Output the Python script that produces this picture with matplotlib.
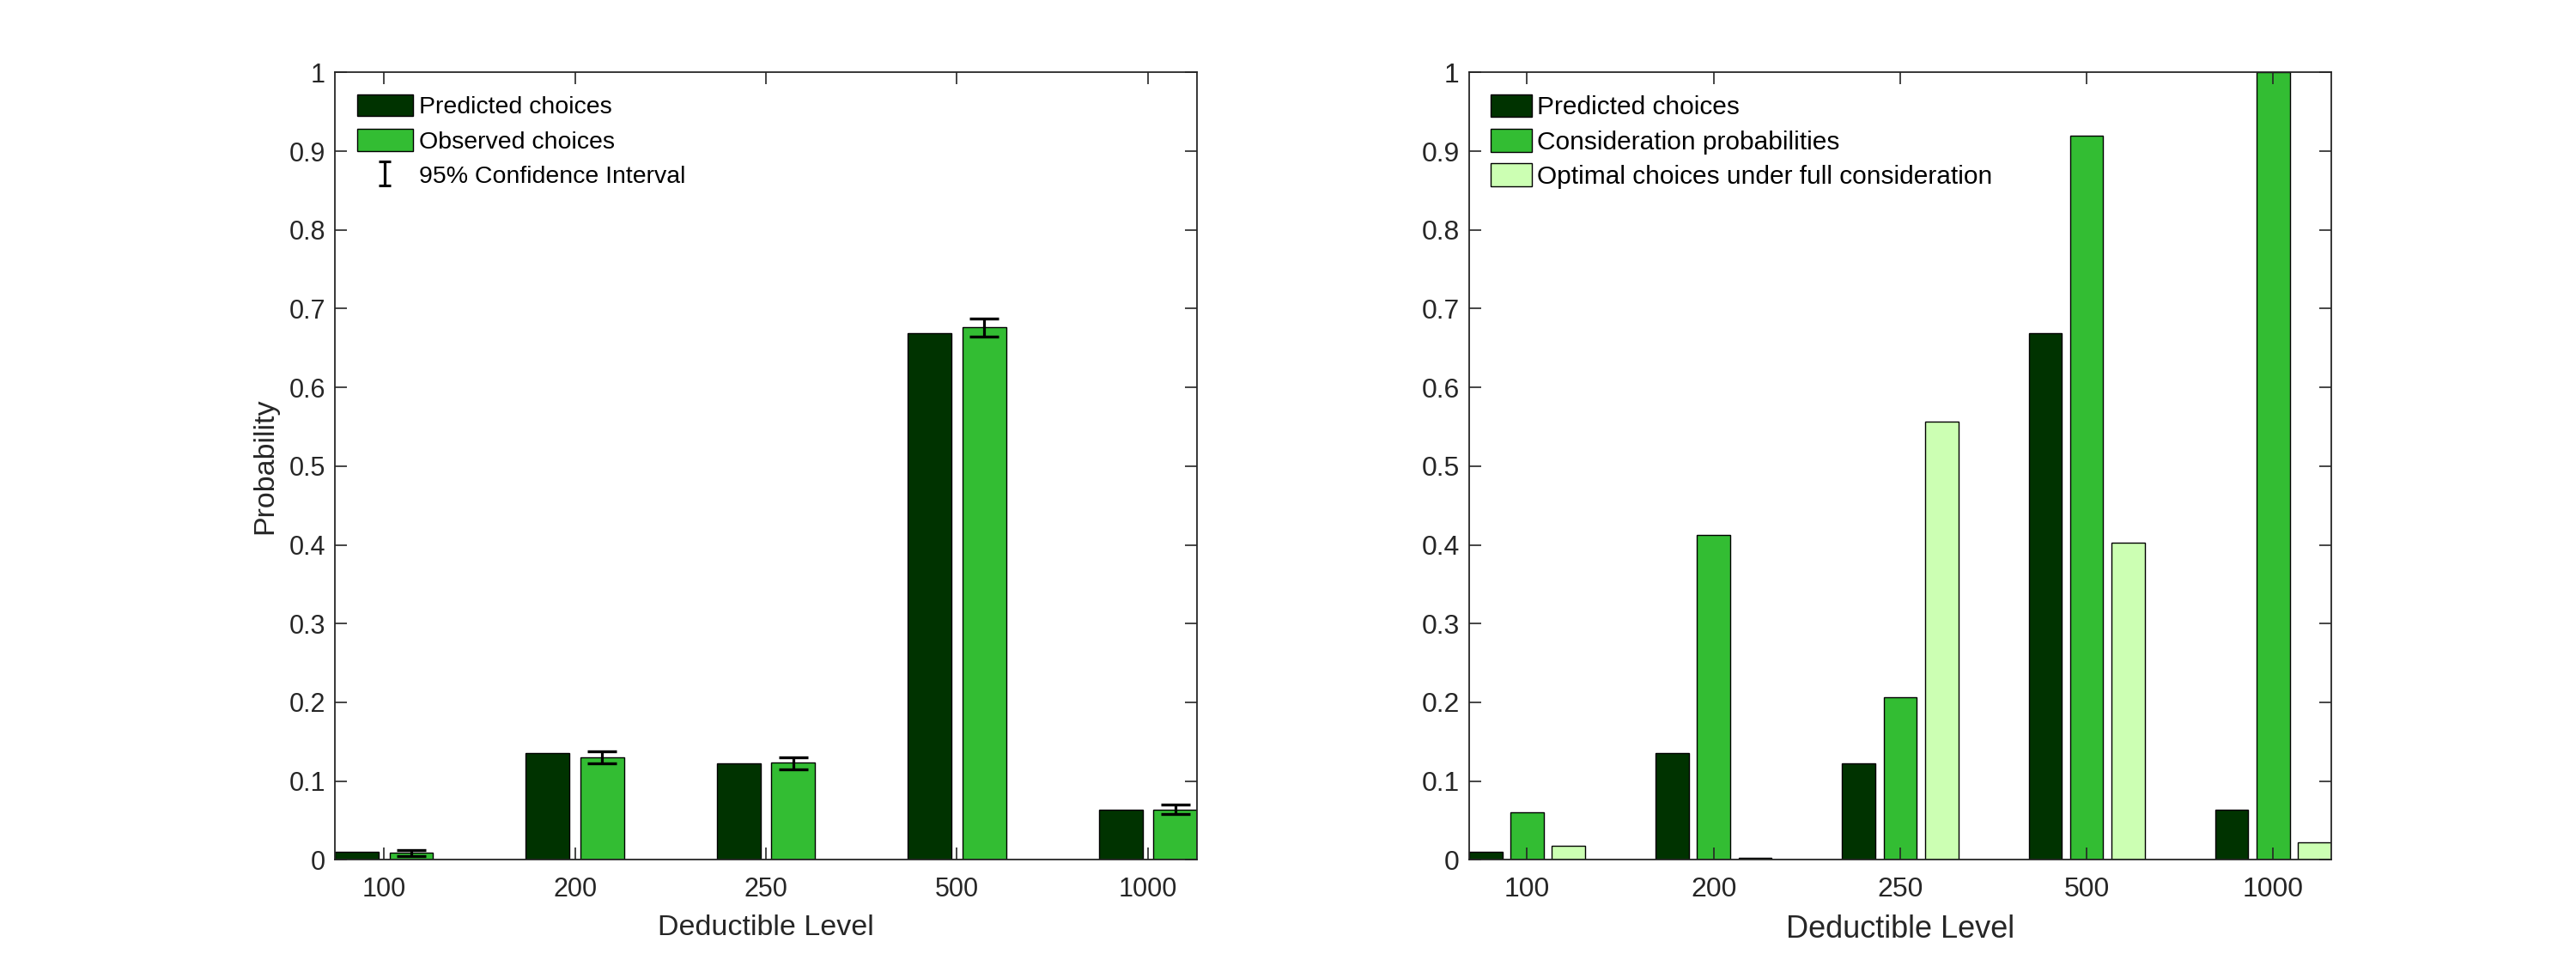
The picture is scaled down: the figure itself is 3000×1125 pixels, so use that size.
import numpy as np
import matplotlib
matplotlib.use("Agg")
import matplotlib.pyplot as plt
from matplotlib.legend_handler import HandlerErrorbar
from matplotlib.lines import Line2D

plt.rcParams['font.family'] = ['Liberation Sans', 'DejaVu Sans']

# ---- data ----
deductibles = ['100', '200', '250', '500', '1000']
predicted = [0.010, 0.136, 0.122, 0.669, 0.064]
observed = [0.009, 0.130, 0.123, 0.676, 0.063]
obs_ci_low = [0.005, 0.122, 0.115, 0.665, 0.058]
obs_ci_high = [0.012, 0.138, 0.130, 0.687, 0.070]
consideration = [0.060, 0.413, 0.206, 0.920, 1.000]
optimal_full = [0.018, 0.002, 0.557, 0.403, 0.022]

yticks = [0, 0.1, 0.2, 0.3, 0.4, 0.5, 0.6, 0.7, 0.8, 0.9, 1]
ytick_labels = ['0', '0.1', '0.2', '0.3', '0.4', '0.5', '0.6', '0.7', '0.8', '0.9', '1']

DARK = '#003300'
GREEN = '#33BD33'
LIGHT = '#CCFFB3'
AXC = '#262626'


class SmallCapHandler(HandlerErrorbar):
    def create_artists(self, *args, **kwargs):
        arts = super().create_artists(*args, **kwargs)
        for a in arts:
            if isinstance(a, Line2D) and a.get_marker() == '_':
                a.set_markersize(9.5)
                a.set_markeredgewidth(2.2)
        return arts


def matlab_group(nbars):
    gw = min(0.8, nbars / (nbars + 1.5))
    w = gw / nbars
    offsets = [(i - (nbars - 1) / 2) * w for i in range(nbars)]
    return offsets, w * 0.8


def style_axes(ax, xpos, xlim, lsize):
    ax.set_ylim(0, 1)
    ax.set_xlim(*xlim)
    ax.set_yticks(yticks)
    ax.set_yticklabels(ytick_labels)
    ax.set_xticks(xpos)
    ax.set_xticklabels(deductibles)
    ax.tick_params(direction='in', top=True, right=True, length=10, width=1.2,
                   colors=AXC, labelsize=lsize)
    ax.tick_params(axis='y', pad=8)
    ax.tick_params(axis='x', pad=14)
    for s in ax.spines.values():
        s.set_color(AXC)
        s.set_linewidth(1.3)


fig = plt.figure(figsize=(30, 11.25), dpi=100)
ax1 = fig.add_axes([0.13, 0.11, 0.3347, 0.815])
ax2 = fig.add_axes([0.5703, 0.11, 0.3347, 0.815])

x = np.arange(1, len(deductibles) + 1)

# ---- left ----
offs, bw = matlab_group(2)
b1 = ax1.bar(x + offs[0], predicted, width=bw, color=DARK, edgecolor='k', linewidth=1.0, label='Predicted choices')
b2 = ax1.bar(x + offs[1], observed, width=bw, color=GREEN, edgecolor='k', linewidth=1.0, label='Observed choices')
obs = np.array(observed)
yerr = [obs - np.array(obs_ci_low), np.array(obs_ci_high) - obs]
eb = ax1.errorbar(x + offs[1], obs, yerr=yerr, fmt='none', ecolor='k', elinewidth=2.3,
                  capsize=12, capthick=2.4, label='95% Confidence Interval', zorder=5)
xl = (1 + offs[0] - bw / 2, len(x) + offs[-1] + bw / 2)
style_axes(ax1, x, xl, 22)
ax1.set_xlabel('Deductible Level', fontsize=24.5, color=AXC, labelpad=10)
ax1.set_ylabel('Probability', fontsize=24.5, color=AXC, labelpad=9)
ax1.legend(handles=[b1, b2, eb], loc='upper left', frameon=False, fontsize=20.5,
           handlelength=2.3, handleheight=1.0, handletextpad=0.25, labelspacing=0.42,
           borderaxespad=0.6, borderpad=0.3,
           handler_map={type(eb): SmallCapHandler()})

# ---- right ----
offs3, bw3 = matlab_group(3)
c1 = ax2.bar(x + offs3[0], predicted, width=bw3, color=DARK, edgecolor='k', linewidth=1.0, label='Predicted choices')
c2 = ax2.bar(x + offs3[1], consideration, width=bw3, color=GREEN, edgecolor='k', linewidth=1.0, label='Consideration probabilities')
c3 = ax2.bar(x + offs3[2], optimal_full, width=bw3, color=LIGHT, edgecolor='k', linewidth=1.0, label='Optimal choices under full consideration')
xl2 = (1 + offs3[0] - bw3 / 2, len(x) + offs3[-1] + bw3 / 2)
style_axes(ax2, x, xl2, 23)
ax2.set_xlabel('Deductible Level', fontsize=26, color=AXC, labelpad=10)
ax2.legend(handles=[c1, c2, c3], loc='upper left', frameon=False, fontsize=21.5,
           handlelength=1.6, handleheight=1.0, handletextpad=0.2, labelspacing=0.36,
           borderaxespad=0.55, borderpad=0.3)

fig.savefig('out.png', dpi=100, facecolor='white')
